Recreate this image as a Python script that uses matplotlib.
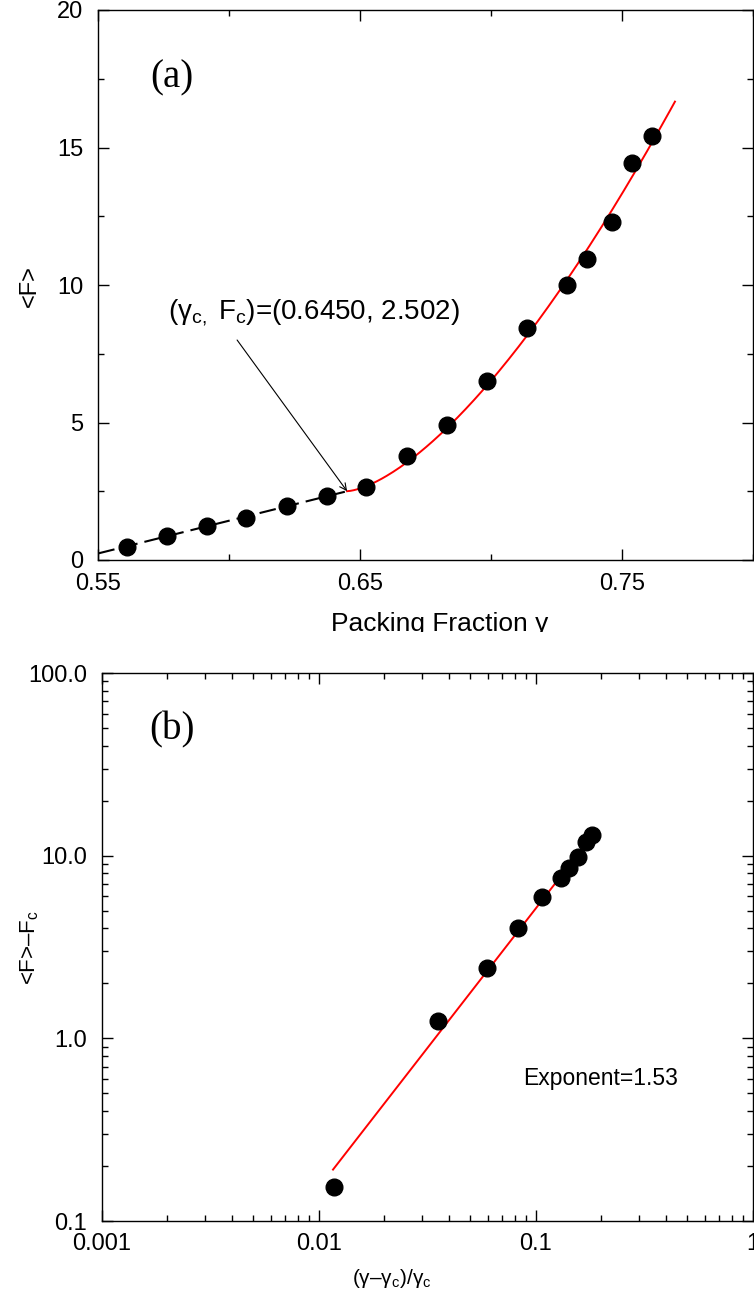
import numpy as np
import matplotlib
matplotlib.use("Agg")
from matplotlib import pyplot as plt
from matplotlib.ticker import FixedLocator, FuncFormatter, LogLocator, NullFormatter
from matplotlib.transforms import Bbox, TransformedBbox

# panel (a): mean force vs packing fraction
gamma = [0.5608, 0.5761, 0.5914, 0.6064, 0.6219, 0.6372, 0.6522, 0.6678,
         0.6830, 0.6983, 0.7136, 0.7289, 0.7367, 0.7460, 0.7538, 0.7615]
mean_f = [0.48, 0.87, 1.25, 1.52, 1.97, 2.33, 2.64, 3.78,
          4.91, 6.50, 8.43, 9.99, 10.96, 12.29, 14.43, 15.43]

# linear part below the transition (dashed)
lin_gamma = [0.55, 0.645]
lin_f = [0.24, 2.502]

# panel (b): log-log above the transition
reduced = [0.0118, 0.0356, 0.0594, 0.0831, 0.107, 0.131, 0.143, 0.157, 0.170, 0.181]
delta_f = [0.153, 1.248, 2.43, 4.00, 5.91, 7.57, 8.52, 9.79, 11.91, 12.97]

# power-law fit shown in both panels
gamma_c = 0.645
f_c = 2.502
exponent = 1.53
amplitude = 174.0
fit_gamma_end = 0.7702
fit_red_range = [0.01164, 0.1825]

plt.rcParams['font.family'] = ['Liberation Sans', 'DejaVu Sans']
plt.rcParams['mathtext.fontset'] = 'custom'
plt.rcParams['mathtext.rm'] = 'Liberation Sans'
plt.rcParams['mathtext.it'] = 'Liberation Sans:italic'

W, H = 754, 1295
fig = plt.figure(figsize=(W / 100, H / 100), dpi=100)


def px_axes(left, right, top, bottom):
    return fig.add_axes([left / W, 1 - bottom / H, (right - left) / W, (bottom - top) / H])


def style(ax, ypad):
    for s in ax.spines.values():
        s.set_linewidth(1.0)
    ax.tick_params(which='both', direction='in', top=True, right=True, width=1.0, labelsize=17)
    ax.tick_params(which='major', length=8)
    ax.tick_params(which='minor', length=4.5)
    ax.tick_params(axis='x', pad=9)
    ax.tick_params(axis='y', pad=ypad)


# ---- panel (a)
ax1 = px_axes(98.3, 753, 10, 560)
style(ax1, 11)
ax1.plot(lin_gamma, lin_f, color='black', lw=1.5, dashes=(8, 3.4))
g_fit = np.linspace(gamma_c, fit_gamma_end, 200)
ax1.plot(g_fit, f_c + amplitude * ((g_fit - gamma_c) / gamma_c) ** exponent, color='red', lw=1.4)
ax1.plot(gamma, mean_f, 'o', color='black', ms=12, zorder=3)
ax1.set_xlim(0.55, 0.80)
ax1.set_ylim(0, 20)
ax1.xaxis.set_major_locator(FixedLocator([0.55, 0.65, 0.75]))
ax1.xaxis.set_minor_locator(FixedLocator([0.60, 0.70, 0.80]))
ax1.xaxis.set_major_formatter(FuncFormatter(lambda v, p: '%.2f' % v))
ax1.yaxis.set_major_locator(FixedLocator([0, 5, 10, 15, 20]))
ax1.yaxis.set_minor_locator(FixedLocator([2.5, 7.5, 12.5, 17.5]))
ax1.yaxis.set_major_formatter(FuncFormatter(lambda v, p: '%d' % v))
ax1.text(0.1126, 0.876, '(a)', transform=ax1.transAxes, fontsize=28,
         family='Liberation Serif', ha='center', va='center')

# label and arrow pointing at the transition point
ax1.text(0.5766, 9.0, r'(γ$_{\mathrm{c,}}$ F$_{\mathrm{c}}$)=(0.6450, 2.502)',
         fontsize=20, ha='left', va='center')
ax1.annotate('', xy=(gamma_c, f_c), xytext=(0.6030, 8.0),
             arrowprops=dict(arrowstyle='->', color='black', lw=0.8,
                             shrinkA=0, shrinkB=0, mutation_scale=12))

fig.text(30 / W, 1 - 286 / H, '<F>', rotation=90, fontsize=17, ha='center', va='center')
xl = fig.text(440 / W, 1 - 631 / H, 'Packing Fraction γ', fontsize=19, ha='center', va='baseline')
xl.set_clip_box(TransformedBbox(Bbox([[0, 1 - 632 / H], [1, 1]]), fig.transFigure))
xl.set_clip_on(True)

# ---- panel (b)
ax2 = px_axes(101.7, 752.7, 673, 1221)
style(ax2, 10.5)
ax2.set_xscale('log')
ax2.set_yscale('log')
r_fit = np.array(fit_red_range)
ax2.plot(r_fit, amplitude * r_fit ** exponent, color='red', lw=1.4)
ax2.plot(reduced, delta_f, 'o', color='black', ms=12, zorder=3)
ax2.set_xlim(0.001, 1)
ax2.set_ylim(0.1, 100)
for axis in (ax2.xaxis, ax2.yaxis):
    axis.set_major_locator(LogLocator(base=10, numticks=10))
    axis.set_minor_locator(LogLocator(base=10, subs=np.arange(2, 10), numticks=20))
    axis.set_minor_formatter(NullFormatter())
ax2.xaxis.set_major_formatter(FuncFormatter(lambda v, p: '%g' % v))
ax2.yaxis.set_major_formatter(FuncFormatter(lambda v, p: '%.1f' % v))
ax2.text(0.108, 0.896, '(b)', transform=ax2.transAxes, fontsize=28,
         family='Liberation Serif', ha='center', va='center')
ax2.text(601 / W, 1 - 1078 / H, 'Exponent=1.53', transform=fig.transFigure,
         fontsize=16.5, ha='center', va='center')

fig.text(30 / W, 1 - 947 / H, '<F>–F$_{\\mathrm{c}}$', rotation=90, fontsize=16,
         ha='center', va='center')
fig.text(392 / W, 1 - 1278 / H, '(γ–γ$_{\\mathrm{c}}$)/γ$_{\\mathrm{c}}$', fontsize=15,
         ha='center', va='center')

fig.savefig('out.png', dpi=100)
